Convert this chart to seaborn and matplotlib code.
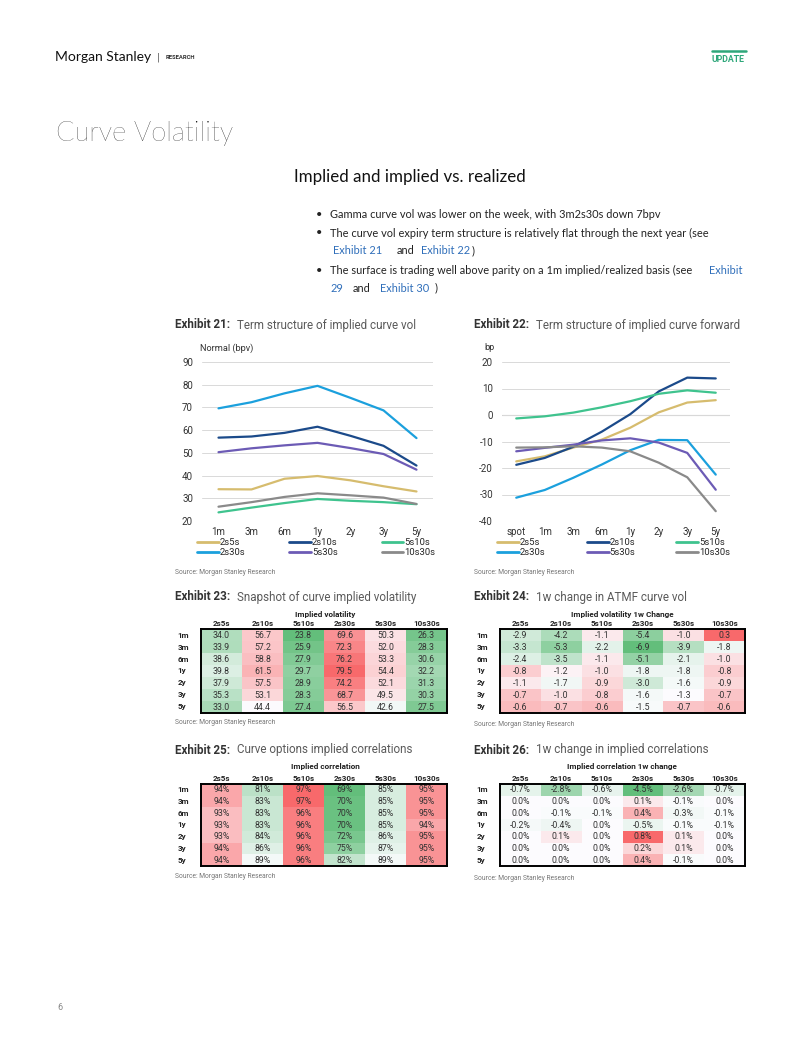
"""Curve volatility page: two term-structure line charts and four heat tables."""
import matplotlib
matplotlib.use("Agg")
from matplotlib import pyplot as plt
from matplotlib.colors import LinearSegmentedColormap, TwoSlopeNorm
from matplotlib.lines import Line2D
import pandas as pd
import seaborn as sns

tenors = ["1m", "3m", "6m", "1y", "2y", "3y", "5y"]
fwd_tenors = ["spot", "1m", "3m", "6m", "1y", "2y", "3y", "5y"]
curves = ["2s5s", "2s10s", "5s10s", "2s30s", "5s30s", "10s30s"]

# Exhibit 21 / 23: implied curve vol (bpv), rows = expiry, cols = curve
implied_vol = [
    [34.0, 56.7, 23.8, 69.6, 50.3, 26.3],
    [33.9, 57.2, 25.9, 72.3, 52.0, 28.3],
    [38.6, 58.8, 27.9, 76.2, 53.3, 30.6],
    [39.8, 61.5, 29.7, 79.5, 54.4, 32.2],
    [37.9, 57.5, 28.9, 74.2, 52.1, 31.3],
    [35.3, 53.1, 28.3, 68.7, 49.5, 30.3],
    [33.0, 44.4, 27.4, 56.5, 42.6, 27.5],
]

# Exhibit 24: 1w change in ATMF curve vol
vol_change = [
    [-2.9, -4.2, -1.1, -5.4, -1.0, 0.3],
    [-3.3, -5.3, -2.2, -6.9, -3.9, -1.8],
    [-2.4, -3.5, -1.1, -5.1, -2.1, -1.0],
    [-0.8, -1.2, -1.0, -1.8, -1.8, -0.8],
    [-1.1, -1.7, -0.9, -3.0, -1.6, -0.9],
    [-0.7, -1.0, -0.8, -1.6, -1.3, -0.7],
    [-0.6, -0.7, -0.6, -1.5, -0.7, -0.6],
]

# Exhibit 25: implied correlations (%)
implied_corr = [
    [94, 81, 97, 69, 85, 95],
    [94, 83, 97, 70, 85, 95],
    [93, 83, 96, 70, 85, 95],
    [93, 83, 96, 70, 85, 94],
    [93, 84, 96, 72, 86, 95],
    [94, 86, 96, 75, 87, 95],
    [94, 89, 96, 82, 89, 95],
]

# Exhibit 26: 1w change in implied correlations (%)
corr_change = [
    [-0.7, -2.8, -0.6, -4.5, -2.6, -0.7],
    [0.0, 0.0, 0.0, 0.1, -0.1, 0.0],
    [0.0, -0.1, -0.1, 0.4, -0.3, -0.1],
    [-0.2, -0.4, 0.0, -0.5, -0.1, -0.1],
    [0.0, 0.1, 0.0, 0.8, 0.1, 0.0],
    [0.0, 0.0, 0.0, 0.2, 0.1, 0.0],
    [0.0, 0.0, 0.0, 0.4, -0.1, 0.0],
]

# Exhibit 22: implied curve forwards (bp), spot .. 5y
fwd_2s5s = [-17.5, -15.6, -12.3, -9.3, -4.8, 1.0, 4.7, 5.6]
fwd_2s10s = [-18.8, -16.2, -12.0, -6.3, 0.3, 8.9, 14.1, 13.8]
fwd_5s10s = [-1.3, -0.5, 0.9, 2.9, 5.2, 8.0, 9.3, 8.4]
fwd_2s30s = [-31.2, -28.3, -23.7, -18.7, -13.3, -9.4, -9.5, -22.5]
fwd_5s30s = [-13.7, -12.4, -11.2, -9.6, -8.8, -10.4, -14.3, -28.2]
fwd_10s30s = [-12.3, -12.2, -11.8, -12.3, -13.7, -18.0, -23.5, -36.3]

line_colors = {"2s5s": "#d6bc6e", "2s10s": "#1b4a8a", "5s10s": "#3fc38e",
               "2s30s": "#1ba0dd", "5s30s": "#6c5bb5", "10s30s": "#8a8a8a"}
# column-major legend fill -> rows read 2s5s 2s10s 5s10s / 2s30s 5s30s 10s30s
legend_order = ["2s5s", "2s30s", "2s10s", "5s30s", "5s10s", "10s30s"]

heat_cmap = LinearSegmentedColormap.from_list(
    "gwr", ["#63be7b", "#fcfcff", "#f8696b"])

sns.set_style("white")
plt.rcParams["font.family"] = ["Roboto", "DejaVu Sans"]
plt.rcParams["axes.unicode_minus"] = False

W, H = 802, 1037
fig = plt.figure(figsize=(W / 100, H / 100), dpi=100)

TXT = "#222222"
LINK = "#2f6eba"
LATO = ["Lato", "DejaVu Sans"]


def add_ax(left, top, right, bottom):
    """Axes placed by page pixels."""
    return fig.add_axes([left / W, 1 - bottom / H,
                         (right - left) / W, (bottom - top) / H])


def put(x, y, s, **kw):
    """Text placed by page pixels."""
    kw.setdefault("va", "center")
    kw.setdefault("color", TXT)
    return fig.text(x / W, 1 - y / H, s, **kw)


def exhibit_title(x, y, number, title):
    put(x, y, f"Exhibit {number}:", fontsize=8.4, fontweight="bold",
        color="#333333")
    put(x + 62, y, title, fontsize=8.4, color="#5a5a5a")


def source(x, y):
    put(x, y, "Source: Morgan Stanley Research", fontsize=4.9, color="#777777")


def line_chart(ax, table, ylim, x0, x1):
    """Draw a term-structure chart from a tenor x curve table."""
    long = (table.rename_axis("tenor").reset_index()
            .melt(id_vars="tenor", var_name="curve", value_name="value"))
    sns.lineplot(data=long, x="tenor", y="value", hue="curve",
                 hue_order=legend_order, palette=line_colors, sort=False,
                 lw=1.6, ax=ax)
    n = len(table.index)
    ax.set_xlim(-0.5, n - 1 + 0.5)
    ax.set_ylim(*ylim)
    ax.set_yticks(range(ylim[0], ylim[1] + 1, 10))
    ax.grid(axis="y", color="#d9d9d9", lw=0.7)
    ax.grid(axis="x", visible=False)
    ax.set_axisbelow(True)
    for sp in ax.spines.values():
        sp.set_visible(False)
    ax.tick_params(length=0, labelsize=7, colors="#333333")
    ax.tick_params(axis="y", pad=6.5)
    ax.tick_params(axis="x", pad=4)
    ax.set_xlabel("")
    ax.set_ylabel("")
    sns.move_legend(ax, "upper left", bbox_to_anchor=(x0, -0.11, x1 - x0, 0),
                    mode="expand", ncol=3, frameon=False, title=None,
                    fontsize=6.8, handlelength=2.3, handletextpad=0.1,
                    labelspacing=0.1, borderpad=0, borderaxespad=0)
    for h in ax.get_legend().get_lines():
        h.set_linewidth(2)


def heat_table(ax, values, norm, labels):
    """Draw one coloured table with a black frame."""
    df = pd.DataFrame(values, index=tenors, columns=curves)
    sns.heatmap(df, ax=ax, cmap=heat_cmap, norm=norm, annot=labels, fmt="",
                cbar=False, xticklabels=True, yticklabels=True,
                annot_kws={"fontsize": 6.3, "color": "#333333"})
    ax.xaxis.tick_top()
    ax.tick_params(length=0, labelsize=5.8, colors="#222222")
    ax.tick_params(axis="x", pad=1.5)
    ax.tick_params(axis="y", pad=17)
    for lab in ax.get_xticklabels():
        lab.set_fontweight("bold")
        lab.set_rotation(0)
    for lab in ax.get_yticklabels():
        lab.set_fontweight("bold")
        lab.set_rotation(0)
        lab.set_horizontalalignment("left")
    ax.set_xlabel("")
    ax.set_ylabel("")
    for sp in ax.spines.values():
        sp.set_visible(True)
        sp.set_linewidth(1.4)
        sp.set_color("black")


# ---- page header -------------------------------------------------------
put(55, 57, "Morgan Stanley", fontsize=10, family=LATO, color="#111111")
put(157, 57, "|", fontsize=8, color="#555555")
put(166, 57.5, "RESEARCH", fontsize=4.2, fontweight="bold", color="#333333")
put(712, 62, "UPDATE", fontsize=6.3, fontweight="bold", color="#2ea77a",
    va="baseline")
fig.add_artist(Line2D([712 / W, 746 / W], [1 - 50.5 / H] * 2,
                      color="#2ea77a", lw=1.8))

put(56, 133, "Curve Volatility", fontsize=19.6, fontweight="light",
    family=LATO, color="#000000")
put(294, 177, "Implied and implied vs. realized", fontsize=12.2,
    family=LATO, color="#111111")

body = dict(fontsize=7.9, family=LATO, color="#222222")
link = dict(body, color=LINK)
for y in (215, 233, 270):
    put(316, y, "•", **body)
put(330, 215, "Gamma curve vol was lower on the week, with 3m2s30s down 7bpv",
    **body)
put(330, 233, "The curve vol expiry term structure is relatively flat through "
    "the next year (see", **body)
put(333, 251, "Exhibit 21", **link)
put(397, 251, "and", **body)
put(421, 251, "Exhibit 22", **link)
put(472, 251, ")", **body)
put(330, 270, "The surface is trading well above parity on a 1m "
    "implied/realized basis (see", **body)
put(709, 270, "Exhibit", **link)
put(330, 288, "29", **link)
put(353, 288, "and", **body)
put(380, 288, "Exhibit 30", **link)
put(435, 288, ")", **body)

put(57, 1008, "6", fontsize=6.5, color="#888888")

# ---- Exhibit 21: term structure of implied curve vol --------------------
exhibit_title(175, 325, 21, "Term structure of implied curve vol")
ax21 = add_ax(202, 362, 433, 521)
vol_df = pd.DataFrame(implied_vol, index=tenors, columns=curves)
line_chart(ax21, vol_df, (20, 90), -0.02, 1.01)
put(200, 348, "Normal (bpv)", fontsize=6.6, color="#333333")
source(175, 572)

# ---- Exhibit 22: term structure of implied curve forward ---------------
exhibit_title(474, 325, 22, "Term structure of implied curve forward")
ax22 = add_ax(502, 362, 730, 521)
fwd_df = pd.DataFrame({"2s5s": fwd_2s5s, "2s10s": fwd_2s10s,
                       "5s10s": fwd_5s10s, "2s30s": fwd_2s30s,
                       "5s30s": fwd_5s30s, "10s30s": fwd_10s30s},
                      index=fwd_tenors)
line_chart(ax22, fwd_df, (-40, 20), -0.02, 1.0)
ax22.axhline(0, color="#bfbfbf", lw=0.8, zorder=0.5)
put(484, 348, "bp", fontsize=6.6, color="#333333")
source(474, 572)

# ---- Exhibit 23: snapshot of implied vol -------------------------------
exhibit_title(175, 597, 23, "Snapshot of curve implied volatility")
put(325, 614, "Implied volatility", fontsize=5.9, fontweight="bold", ha="center")
ax23 = add_ax(201, 629, 447, 713)
heat_table(ax23, implied_vol, TwoSlopeNorm(44, 23.8, 79.5),
           [[f"{v:.1f}" for v in row] for row in implied_vol])
source(175, 722)

# ---- Exhibit 24: 1w change in ATMF curve vol ---------------------------
exhibit_title(474, 597, 24, "1w change in ATMF curve vol")
put(622, 614, "Implied volatility 1w Change", fontsize=5.9, fontweight="bold",
    ha="center")
ax24 = add_ax(500, 629, 745, 713)
heat_table(ax24, vol_change, TwoSlopeNorm(-1.3, -6.9, 0.3),
           [[f"{v:.1f}" for v in row] for row in vol_change])
source(474, 724)

# ---- Exhibit 25: implied correlations ----------------------------------
exhibit_title(175, 750, 25, "Curve options implied correlations")
put(325, 767, "Implied correlation", fontsize=5.9, fontweight="bold",
    ha="center")
ax25 = add_ax(201, 784, 447, 866)
heat_table(ax25, implied_corr, TwoSlopeNorm(90, 69, 97),
           [[f"{v}%" for v in row] for row in implied_corr])
source(175, 876)

# ---- Exhibit 26: 1w change in implied correlations ---------------------
exhibit_title(474, 750, 26, "1w change in implied correlations")
put(622, 767, "Implied correlation 1w change", fontsize=5.9,
    fontweight="bold", ha="center")
ax26 = add_ax(500, 784, 745, 866)
heat_table(ax26, corr_change, TwoSlopeNorm(0, -4.5, 0.8),
           [[f"{v:.1f}%" for v in row] for row in corr_change])
source(474, 878)

fig.savefig("out.png", dpi=100)
